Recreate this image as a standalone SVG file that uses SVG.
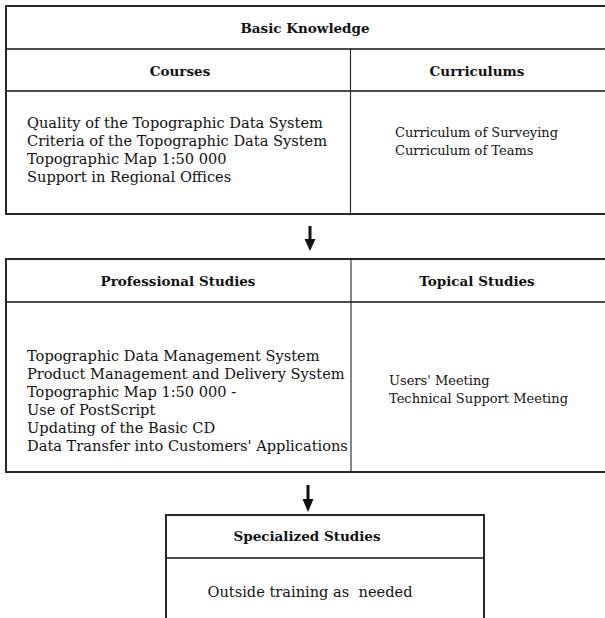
<svg xmlns="http://www.w3.org/2000/svg" width="605" height="618" viewBox="0 0 605 618">
<style>
  .frame { fill: none; stroke: #111; stroke-width: 1.8; }
  .rule { fill: none; stroke: #111; stroke-width: 1.5; }
  .div { fill: none; stroke: #222; stroke-width: 1.1; }
  .hd { font-family: "DejaVu Serif", "Liberation Serif", serif; font-weight: bold; font-size: 13.5px; fill: #111; text-anchor: middle; }
  .tx { font-family: "DejaVu Serif", "Liberation Serif", serif; font-size: 14.6px; fill: #111; }
  .tr { font-family: "DejaVu Serif", "Liberation Serif", serif; font-size: 13px; fill: #111; }
  .arrow { stroke: #111; stroke-width: 3; fill: none; }
  .head { fill: #111; }
</style>
<rect width="605" height="618" fill="#fff"/>

<g id="basic-knowledge">
  <rect class="frame" x="6" y="6" width="620" height="208"/>
  <line class="rule" x1="6" y1="49" x2="626" y2="49"/>
  <line class="rule" x1="6" y1="91" x2="626" y2="91"/>
  <line class="div" x1="350.5" y1="49" x2="350.5" y2="214"/>
  <text class="hd" x="305" y="33">Basic Knowledge</text>
  <text class="hd" x="180" y="76">Courses</text>
  <text class="hd" x="477" y="76">Curriculums</text>
  <text class="tx" x="27" y="128">Quality of the Topographic Data System</text>
  <text class="tx" x="27" y="146">Criteria of the Topographic Data System</text>
  <text class="tx" x="27" y="164">Topographic Map 1:50 000</text>
  <text class="tx" x="27" y="182">Support in Regional Offices</text>
  <text class="tr" x="395" y="137">Curriculum of Surveying</text>
  <text class="tr" x="395" y="155">Curriculum of Teams</text>
</g>

<g id="professional-topical">
  <rect class="frame" x="6" y="259" width="620" height="213"/>
  <line class="rule" x1="6" y1="302" x2="626" y2="302"/>
  <line class="div" x1="351" y1="259" x2="351" y2="472"/>
  <text class="hd" x="178" y="286">Professional Studies</text>
  <text class="hd" x="477" y="286">Topical Studies</text>
  <text class="tx" x="27" y="361">Topographic Data Management System</text>
  <text class="tx" x="27" y="379">Product Management and Delivery System</text>
  <text class="tx" x="27" y="397">Topographic Map 1:50 000 -</text>
  <text class="tx" x="27" y="415">Use of PostScript</text>
  <text class="tx" x="27" y="433">Updating of the Basic CD</text>
  <text class="tx" x="27" y="451">Data Transfer into Customers' Applications</text>
  <text class="tr" x="389" y="385">Users' Meeting</text>
  <text class="tr" x="389" y="403">Technical Support Meeting</text>
</g>

<g id="specialized">
  <rect class="frame" x="166" y="515" width="318" height="120"/>
  <line class="rule" x1="166" y1="558" x2="484" y2="558"/>
  <text class="hd" x="307" y="541">Specialized Studies</text>
  <text class="tx" x="310" y="597" text-anchor="middle" xml:space="preserve">Outside training as  needed</text>
</g>

<g id="connectors">
  <line class="arrow" x1="310" y1="226" x2="310" y2="241"/>
  <polygon class="head" points="304.5,239 315.5,239 310,251"/>
  <line class="arrow" x1="308" y1="485" x2="308" y2="501"/>
  <polygon class="head" points="302.5,499 313.5,499 308,512"/>
</g>
</svg>
